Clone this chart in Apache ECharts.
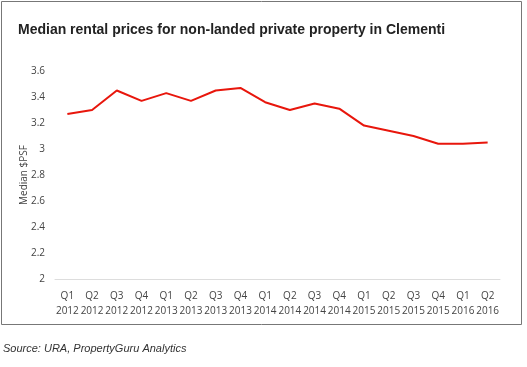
<!DOCTYPE html>
<html><head><meta charset="utf-8">
<script src="https://cdn.jsdelivr.net/npm/echarts@6/dist/echarts.min.js"></script>
<style>html,body{margin:0;padding:0;background:#fff}#c{width:527px;height:367px}</style>
</head><body><div id="c"></div>
<script>
const categories = ["Q1\n2012","Q2\n2012","Q3\n2012","Q4\n2012","Q1\n2013","Q2\n2013","Q3\n2013","Q4\n2013","Q1\n2014","Q2\n2014","Q3\n2014","Q4\n2014","Q1\n2015","Q2\n2015","Q3\n2015","Q4\n2015","Q1\n2016","Q2\n2016"];
const medianPSF = [3.27,3.30,3.45,3.37,3.43,3.37,3.45,3.47,3.36,3.30,3.35,3.31,3.18,3.14,3.10,3.04,3.04,3.05];
const yTicks = [2,2.2,2.4,2.6,2.8,3,3.2,3.4,3.6];
const titleText = "Median rental prices for non-landed private property in Clementi";
const sourceText = "Source: URA, PropertyGuru Analytics";

const chart = echarts.init(document.getElementById('c'), null, {renderer:'canvas'});
chart.setOption({
  animation:false,
  backgroundColor:'#fff',
  graphic:[
    {type:'rect', shape:{x:1.5,y:1.5,width:520,height:323}, style:{fill:'none',stroke:'#777',lineWidth:1}, silent:true},
    {type:'text', left:18, top:23, style:{text:titleText, font:'bold 14px "Liberation Sans", Arial, sans-serif', fill:'#222'}},
    {type:'text', left:3, top:343, style:{text:sourceText, font:'italic 11px "Liberation Sans", Arial, sans-serif', fill:'#333'}}
  ],
  grid:{left:55, right:27, top:71, bottom:88, containLabel:false},
  xAxis:{
    type:'category', data:categories, boundaryGap:true,
    axisLine:{show:true, lineStyle:{color:'#ddd'}},
    axisTick:{show:false},
    axisLabel:{color:'#444', fontSize:10, fontFamily:'"Open Sans", sans-serif', lineHeight:15, margin:10, interval:0}
  },
  yAxis:{
    type:'value', min:yTicks[0], max:yTicks[yTicks.length-1], interval:0.2,
    name:'Median $PSF', nameLocation:'middle', nameGap:26, nameMoveOverlap:false,
    nameTextStyle:{color:'#444', fontSize:10, fontFamily:'"Open Sans", sans-serif'},
    axisLine:{show:false}, axisTick:{show:false}, splitLine:{show:false},
    axisLabel:{color:'#444', fontSize:10, fontFamily:'"Open Sans", sans-serif', margin:10,
      formatter:v=>String(Math.round(v*10)/10)}
  },
  series:[{
    type:'line', data:medianPSF, symbol:'none',
    lineStyle:{color:'#e8160c', width:2}
  }]
});
</script></body></html>
